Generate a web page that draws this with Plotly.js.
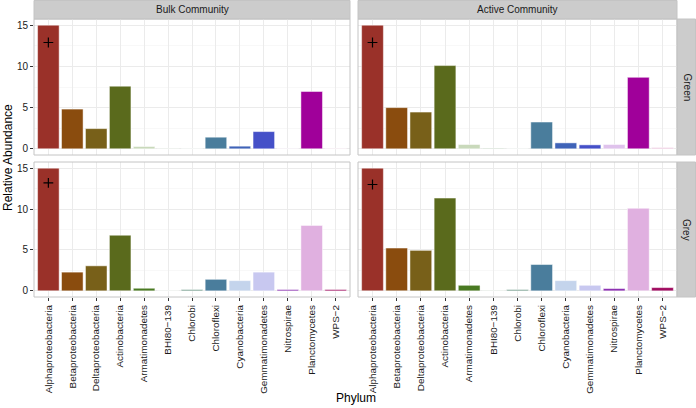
<!DOCTYPE html>
<html>
<head>
<meta charset="utf-8">
<script src="https://cdn.plot.ly/plotly-3.0.1.min.js"></script>
<style>html,body{margin:0;padding:0;background:#fff;}#chart{width:696px;height:408px;}</style>
</head>
<body>
<div id="chart"></div>
<script>
// ---- data ----
const phyla = ["Alphaproteobacteria","Betaproteobacteria","Deltaproteobacteria","Actinobacteria","Armatimonadetes","BHI80\u2212139","Chlorobi","Chloroflexi","Cyanobacteria","Gemmatimonadetes","Nitrospirae","Planctomycetes","WPS\u22122"];
const bulkGreen   = [15, 4.82, 2.45, 7.6, 0.28, 0.05, 0.03, 1.41, 0.32, 2.09, 0.04, 6.95, 0.05];
const activeGreen = [15, 5.0, 4.46, 10.1, 0.52, 0.08, 0.02, 3.25, 0.72, 0.48, 0.52, 8.67, 0.16];
const bulkGrey    = [15, 2.29, 3.06, 6.8, 0.32, 0.02, 0.16, 1.41, 1.25, 2.29, 0.16, 8.0, 0.16];
const activeGrey  = [15, 5.23, 4.95, 11.34, 0.68, 0.05, 0.16, 3.22, 1.25, 0.68, 0.28, 10.09, 0.4];
const colorsGreen = ["#9a3129","#8a4c0e","#786019","#5a6a1c","#c9d9bb","#b5cbb5","#b9cfc4","#4a7d9c","#3f63b8","#4550c8","#dfc2ec","#a0009a","#ecc2dc"];
const colorsGrey  = ["#9a3129","#8a4c0e","#786019","#5a6a1c","#4a7a22","#b5cbb5","#6f9a8a","#4a7d9c","#c4d4ec","#c8c8f0","#8a2cb0","#e0b0e0","#a00c60"];
const capCategory = ["Alphaproteobacteria"];
const capBulkGreen = [12.9], capActiveGreen = [12.9], capBulkGrey = [13.2], capActiveGrey = [13.0];
const colLabels = ["Bulk Community","Active Community"];
const rowLabels = ["Green","Grey"];
const yTicks = [0,5,10,15];

// ---- layout geometry ----
const W = 696, H = 408;
const xL = [34/W, 350/W], xR = [358/W, 677/W];
const yT = [(H-155)/H, (H-19)/H], yB = [(H-297)/H, (H-162)/H];

function bar(vals, cols, xa, ya){
  return {type:'bar', x:phyla, y:vals, xaxis:xa, yaxis:ya,
    marker:{color:cols, line:{color:'rgba(255,255,255,0.8)', width:0.6}},
    hoverinfo:'x+y', showlegend:false};
}
function cap(vals, xa, ya){
  return {type:'scatter', mode:'markers', x:capCategory, y:vals, xaxis:xa, yaxis:ya,
    marker:{symbol:'cross-thin', size:7, line:{color:'#000', width:1.2}}, showlegend:false, hoverinfo:'skip'};
}
const data = [
  bar(bulkGreen, colorsGreen, 'x','y'),
  bar(activeGreen, colorsGreen, 'x2','y2'),
  bar(bulkGrey, colorsGrey, 'x3','y3'),
  bar(activeGrey, colorsGrey, 'x4','y4'),
  cap(capBulkGreen,'x','y'), cap(capActiveGreen,'x2','y2'),
  cap(capBulkGrey,'x3','y3'), cap(capActiveGrey,'x4','y4')
];

const font = {family:'"Liberation Sans", Arial, sans-serif', size:10, color:'#333'};
function xax(dom, anchor, labels){
  return {domain:dom, anchor:anchor, type:'category', categoryorder:'array', categoryarray:phyla,
    range:[-0.6, 12.6], showgrid:true, gridcolor:'#ebebeb', gridwidth:1, zeroline:false,
    showline:false, ticks: labels ? 'outside' : '', ticklen:3, tickcolor:'#333',
    showticklabels:labels, tickangle:-90, tickfont:{family:'"Liberation Sans", Arial, sans-serif', size:9.9, color:'#1a1a1a'}, fixedrange:true};
}
function yax(dom, anchor, labels){
  return {domain:dom, anchor:anchor, range:[-0.75,15.75], tickvals:yTicks, showgrid:true,
    gridcolor:'#ebebeb', gridwidth:1, zeroline:false, showline:false,
    minor:{tickvals:[2.5,7.5,12.5], showgrid:true, gridcolor:'#f3f3f3', gridwidth:0.6, ticks:''},
    ticks: labels ? 'outside' : '', ticklen:3, tickcolor:'#333',
    showticklabels:labels, tickfont:{size:10, color:'#1a1a1a'}, fixedrange:true};
}

const shapes = [];
const panels = [[xL,yT],[xR,yT],[xL,yB],[xR,yB]];
panels.forEach(p => shapes.push({type:'rect', xref:'paper', yref:'paper', x0:p[0][0], x1:p[0][1], y0:p[1][0], y1:p[1][1], line:{color:'#c4c4c4', width:1}, fillcolor:'rgba(0,0,0,0)', layer:'above'}));
// strips
shapes.push({type:'rect', xref:'paper', yref:'paper', x0:xL[0], x1:xL[1], y0:yT[1], y1:(H-0.5)/H, line:{color:'#c4c4c4', width:1}, fillcolor:'#cccccc', layer:'below'});
shapes.push({type:'rect', xref:'paper', yref:'paper', x0:xR[0], x1:xR[1], y0:yT[1], y1:(H-0.5)/H, line:{color:'#c4c4c4', width:1}, fillcolor:'#cccccc', layer:'below'});
shapes.push({type:'rect', xref:'paper', yref:'paper', x0:xR[1], x1:695.5/W, y0:yT[0], y1:yT[1], line:{color:'#c4c4c4', width:1}, fillcolor:'#cccccc', layer:'below'});
shapes.push({type:'rect', xref:'paper', yref:'paper', x0:xR[1], x1:695.5/W, y0:yB[0], y1:yB[1], line:{color:'#c4c4c4', width:1}, fillcolor:'#cccccc', layer:'below'});

const stripFont = {family:font.family, size:10, color:'#1a1a1a'};
const annotations = [
  {text:colLabels[0], xref:'paper', yref:'paper', x:(xL[0]+xL[1])/2, y:(yT[1]+1)/2, showarrow:false, font:stripFont, xanchor:'center', yanchor:'middle'},
  {text:colLabels[1], xref:'paper', yref:'paper', x:(xR[0]+xR[1])/2, y:(yT[1]+1)/2, showarrow:false, font:stripFont, xanchor:'center', yanchor:'middle'},
  {text:rowLabels[0], xref:'paper', yref:'paper', x:(xR[1]+1)/2, y:(yT[0]+yT[1])/2, showarrow:false, font:stripFont, textangle:90, xanchor:'center', yanchor:'middle'},
  {text:rowLabels[1], xref:'paper', yref:'paper', x:(xR[1]+1)/2, y:(yB[0]+yB[1])/2, showarrow:false, font:stripFont, textangle:90, xanchor:'center', yanchor:'middle'},
  {text:'Relative Abundance', xref:'paper', yref:'paper', x:8/W, y:(H-158)/H, showarrow:false, font:{family:font.family, size:12, color:'#000'}, textangle:-90, xanchor:'center', yanchor:'middle'},
  {text:'Phylum', xref:'paper', yref:'paper', x:(34+677)/2/W, y:(H-398)/H, showarrow:false, font:{family:font.family, size:12, color:'#000'}, xanchor:'center', yanchor:'middle'}
];

const layout = {
  width:W, height:H, margin:{l:0,r:0,t:0,b:0,autoexpand:false},
  paper_bgcolor:'#fff', plot_bgcolor:'#fff', font:font, bargap:0.1, showlegend:false,
  xaxis:xax(xL,'y',false), yaxis:yax(yT,'x',true),
  xaxis2:xax(xR,'y2',false), yaxis2:yax(yT,'x2',false),
  xaxis3:xax(xL,'y3',true), yaxis3:yax(yB,'x3',true),
  xaxis4:xax(xR,'y4',true), yaxis4:yax(yB,'x4',false),
  shapes:shapes, annotations:annotations
};
Plotly.newPlot('chart', data, layout, {displayModeBar:false, staticPlot:true});
</script>
</body>
</html>
